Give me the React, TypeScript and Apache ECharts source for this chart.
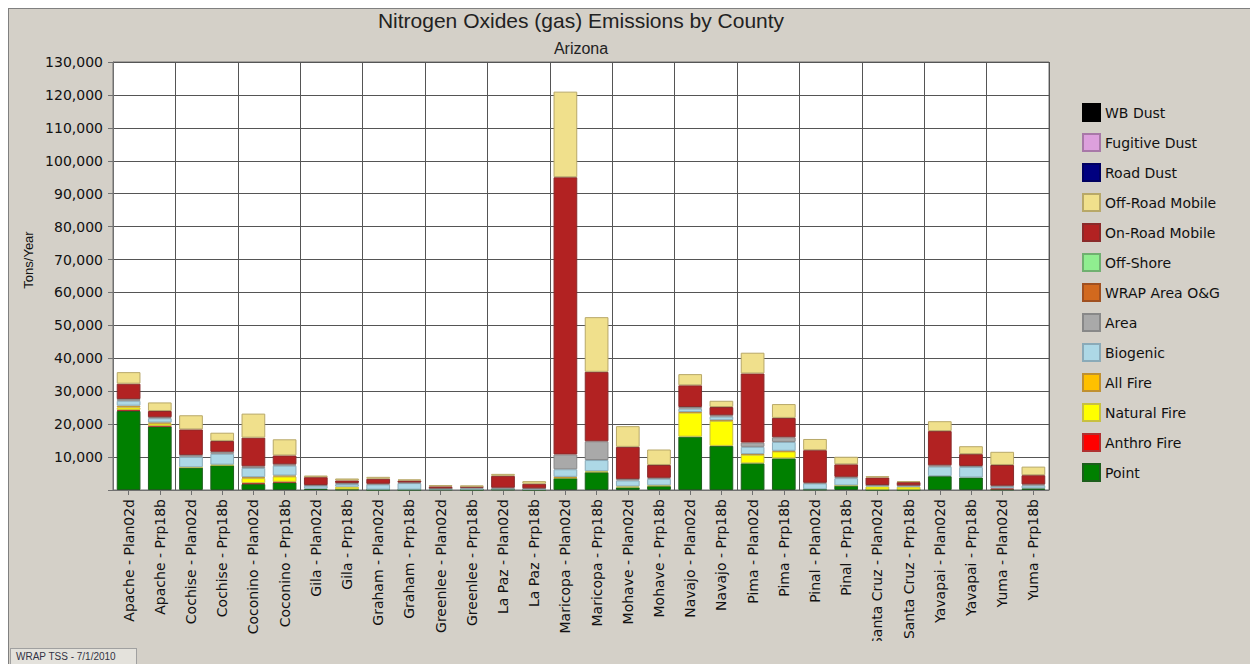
import React, { useEffect, useRef } from "react";
import * as echarts from "echarts";

const categories = [
  "Apache - Plan02d", "Apache - Prp18b",
  "Cochise - Plan02d", "Cochise - Prp18b",
  "Coconino - Plan02d", "Coconino - Prp18b",
  "Gila - Plan02d", "Gila - Prp18b",
  "Graham - Plan02d", "Graham - Prp18b",
  "Greenlee - Plan02d", "Greenlee - Prp18b",
  "La Paz - Plan02d", "La Paz - Prp18b",
  "Maricopa - Plan02d", "Maricopa - Prp18b",
  "Mohave - Plan02d", "Mohave - Prp18b",
  "Navajo - Plan02d", "Navajo - Prp18b",
  "Pima - Plan02d", "Pima - Prp18b",
  "Pinal - Plan02d", "Pinal - Prp18b",
  "Santa Cruz - Plan02d", "Santa Cruz - Prp18b",
  "Yavapai - Plan02d", "Yavapai - Prp18b",
  "Yuma - Plan02d", "Yuma - Prp18b",
];

const point = [24000, 19300, 6800, 7500, 1800, 2300, 400, 200, 100, 100, 200, 100, 200, 100, 3600, 5400, 800, 1200, 16200, 13400, 8100, 9600, 200, 1300, 100, 100, 4200, 3800, 200, 500];
const anthroFire = [300, 200, 0, 0, 300, 200, 0, 0, 0, 0, 0, 0, 0, 0, 0, 0, 0, 0, 0, 0, 0, 0, 0, 0, 0, 0, 0, 0, 300, 0];
const naturalFire = [800, 700, 100, 200, 1500, 1600, 0, 800, 0, 0, 0, 0, 0, 0, 200, 300, 300, 200, 7300, 7600, 2600, 2100, 0, 100, 1000, 900, 0, 0, 0, 0];
const allFire = [500, 300, 0, 0, 300, 300, 0, 0, 0, 0, 0, 0, 0, 0, 200, 0, 0, 0, 200, 200, 200, 200, 0, 0, 0, 0, 0, 0, 0, 0];
const biogenic = [1500, 1300, 3200, 3300, 2800, 3000, 900, 800, 1600, 2000, 200, 400, 300, 200, 2300, 3400, 1800, 2000, 1000, 1100, 2200, 2700, 1800, 2200, 300, 300, 2900, 3200, 600, 900];
const area = [500, 300, 500, 600, 500, 400, 200, 300, 200, 200, 100, 300, 200, 200, 4500, 5700, 400, 300, 500, 400, 1300, 1400, 200, 400, 100, 100, 400, 300, 200, 300];
const wrapAreaOG = [0, 0, 0, 0, 0, 0, 0, 0, 0, 0, 0, 0, 0, 0, 0, 0, 0, 0, 0, 0, 0, 0, 0, 0, 0, 0, 0, 0, 0, 0];
const offShore = [0, 0, 0, 0, 0, 0, 0, 0, 0, 0, 0, 0, 0, 0, 0, 0, 0, 0, 0, 0, 0, 0, 0, 0, 0, 0, 0, 0, 0, 0];
const onRoadMobile = [4700, 1900, 7800, 3300, 8700, 2700, 2400, 800, 1500, 600, 600, 200, 3600, 1400, 84200, 21100, 9800, 3900, 6600, 2500, 21000, 5900, 9900, 3800, 2300, 1000, 10400, 3600, 6300, 2800];
const offRoadMobile = [3500, 2600, 4300, 2500, 7300, 4900, 500, 600, 600, 300, 400, 400, 600, 800, 26000, 16600, 6300, 4700, 3400, 1900, 6300, 4200, 3400, 2300, 400, 300, 3000, 2400, 4000, 2600];
const roadDust = [0, 0, 0, 0, 0, 0, 0, 0, 0, 0, 0, 0, 0, 0, 0, 0, 0, 0, 0, 0, 0, 0, 0, 0, 0, 0, 0, 0, 0, 0];
const fugitiveDust = [0, 0, 0, 0, 0, 0, 0, 0, 0, 0, 0, 0, 0, 0, 0, 0, 0, 0, 0, 0, 0, 0, 0, 0, 0, 0, 0, 0, 0, 0];
const wbDust = [0, 0, 0, 0, 0, 0, 0, 0, 0, 0, 0, 0, 0, 0, 0, 0, 0, 0, 0, 0, 0, 0, 0, 0, 0, 0, 0, 0, 0, 0];

const yTicks = [10000, 20000, 30000, 40000, 50000, 60000, 70000, 80000, 90000, 100000, 110000, 120000, 130000];

// stacking order, bottom first
const seriesDefs = [
  { name: "Point", data: point, color: "#008000", border: "#1c5e1c" },
  { name: "Anthro Fire", data: anthroFire, color: "#FF0000", border: "#b03030" },
  { name: "Natural Fire", data: naturalFire, color: "#FFFF00", border: "#c8c040" },
  { name: "All Fire", data: allFire, color: "#FFC000", border: "#c09030" },
  { name: "Biogenic", data: biogenic, color: "#ADD8E6", border: "#8aaab8" },
  { name: "Area", data: area, color: "#A9A9A9", border: "#888888" },
  { name: "WRAP Area O&G", data: wrapAreaOG, color: "#D2691E", border: "#a05020" },
  { name: "Off-Shore", data: offShore, color: "#90EE90", border: "#70b070" },
  { name: "On-Road Mobile", data: onRoadMobile, color: "#B22222", border: "#8a2a2a" },
  { name: "Off-Road Mobile", data: offRoadMobile, color: "#F0E08C", border: "#b8a868" },
  { name: "Road Dust", data: roadDust, color: "#000080", border: "#000060" },
  { name: "Fugitive Dust", data: fugitiveDust, color: "#DDA0DD", border: "#a878a8" },
  { name: "WB Dust", data: wbDust, color: "#000000", border: "#000000" },
];

const FONT = "'Liberation Sans', Arial, sans-serif";
const FONT2 = "'DejaVu Sans', 'Liberation Sans', sans-serif";

export default function App() {
  const ref = useRef<HTMLDivElement>(null);

  useEffect(() => {
    if (!ref.current) return;
    const chart = echarts.init(ref.current, undefined, { renderer: "svg" });
    const option = {
      animation: false,
      textStyle: { fontFamily: FONT2 },
      graphic: [
        {
          type: "text",
          x: 573,
          y: 12,
          style: {
            text: "Nitrogen Oxides (gas) Emissions by County",
            fontFamily: FONT,
            fontSize: 21,
            fill: "#222",
            textAlign: "center",
            textVerticalAlign: "middle",
          },
        },
        {
          type: "text",
          x: 573,
          y: 40,
          style: {
            text: "Arizona",
            fontFamily: FONT,
            fontSize: 16,
            fill: "#222",
            textAlign: "center",
            textVerticalAlign: "middle",
          },
        },
        {
          type: "text",
          x: 20,
          y: 252,
          rotation: Math.PI / 2,
          style: {
            text: "Tons/Year",
            fontFamily: FONT,
            fontSize: 13,
            fill: "#111",
            textAlign: "center",
            textVerticalAlign: "middle",
          },
        },
      ],
      legend: {
        orient: "vertical",
        left: 1069,
        top: 90,
        itemWidth: 17,
        itemHeight: 17,
        itemGap: 11,
        icon: "rect",
        data: seriesDefs.map((s) => s.name).reverse(),
        textStyle: { fontSize: 14, color: "#111", fontFamily: FONT2 },
      },
      grid: {
        left: 105,
        right: 201,
        top: 54,
        bottom: 151,
        outerBoundsMode: "none",
        containLabel: false,
        show: true,
        backgroundColor: "#ffffff",
        borderColor: "#707070",
        borderWidth: 1,
      },
      xAxis: {
        type: "category",
        data: categories,
        axisLine: { lineStyle: { color: "#707070" } },
        axisTick: { show: true, alignWithLabel: true, length: 5, lineStyle: { color: "#707070" } },
        axisLabel: { rotate: 90, fontSize: 14, color: "#111", margin: 9, interval: 0, fontFamily: FONT2 },
        splitLine: {
          show: true,
          interval: (index: number) => index > 0 && index % 2 === 0,
          lineStyle: { color: "#555", width: 1 },
        },
      },
      yAxis: {
        type: "value",
        min: 0,
        max: 130000,
        interval: 10000,
        axisLine: { show: true, lineStyle: { color: "#707070" } },
        axisTick: { show: true, length: 5, lineStyle: { color: "#707070" } },
        axisLabel: {
          fontSize: 14,
          color: "#111",
          margin: 10,
          fontFamily: FONT2,
          formatter: (v: number) => (yTicks.includes(v) ? v.toLocaleString("en-US") : ""),
        },
        splitLine: { show: true, lineStyle: { color: "#555", width: 1 } },
      },
      series: seriesDefs.map((s) => ({
        name: s.name,
        type: "bar",
        stack: "total",
        barWidth: "76%",
        data: s.data.map((v) => (v === 0 ? null : v)),
        itemStyle: { color: s.color, borderColor: s.border, borderWidth: 1 },
        emphasis: { disabled: true },
      })),
    };
    chart.setOption(option as any);
    return () => chart.dispose();
  }, []);

  return (
    <div
      style={{
        position: "fixed",
        left: 8,
        top: 8,
        width: 1242,
        height: 656,
        background: "#D4D0C8",
        borderLeft: "1px solid #808080",
        borderTop: "1px solid #808080",
        boxSizing: "border-box",
        overflow: "hidden",
      }}
    >
      <div ref={ref} style={{ position: "absolute", left: -1, top: -1, width: 1242, height: 633 }} />
      <div
        style={{
          position: "absolute",
          left: 1,
          top: 639,
          width: 127,
          height: 17,
          background: "#E4E2DC",
          border: "1px solid #A0A0A0",
          boxSizing: "border-box",
          fontFamily: FONT,
          fontSize: 10,
          color: "#334",
          lineHeight: "15px",
          paddingLeft: 5,
        }}
      >
        WRAP TSS - 7/1/2010
      </div>
    </div>
  );
}
